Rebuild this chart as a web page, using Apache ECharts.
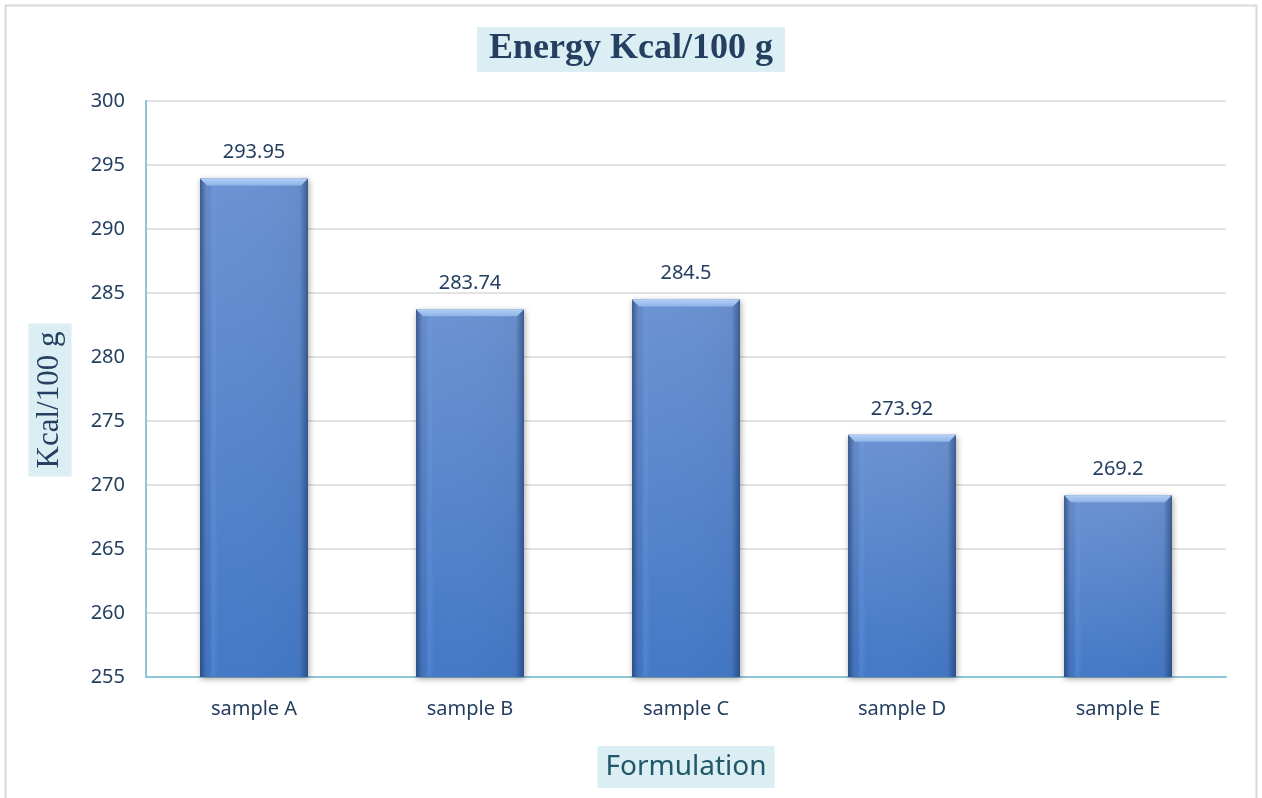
<!DOCTYPE html>
<html>
<head>
<meta charset="utf-8">
<script src="https://cdn.jsdelivr.net/npm/echarts@6/dist/echarts.min.js"></script>
<style>
  html, body { margin: 0; padding: 0; background: #ffffff; overflow: hidden; }
  #chart { width: 1262px; height: 798px; }
</style>
</head>
<body>
<div id="chart"></div>
<script>
// Energy content per formulation
const categories = ['sample A', 'sample B', 'sample C', 'sample D', 'sample E'];
const energyValues = [293.95, 283.74, 284.5, 273.92, 269.2];
const yTicks = { min: 255, max: 300, interval: 5 };

const chart = echarts.init(document.getElementById('chart'));

const textColor = '#243f60';

// Main bar body: lighter grey-blue at the top, deeper blue at the base
const barFill = new echarts.graphic.LinearGradient(0, 0, 0, 1, [
  { offset: 0, color: '#6c93d2' },
  { offset: 1, color: '#4479c6' }
]);

// Bevel overlay: darker side edges and a light top face, sized from the axis scale
function renderBevel(params, api) {
  const catIndex = api.value(0);
  const top = api.coord([catIndex, api.value(1)]);
  const base = api.coord([catIndex, yTicks.min]);
  const bandWidth = api.size([1, 0])[0];
  const w = bandWidth * 0.5;
  const x0 = top[0] - w / 2;
  const x1 = top[0] + w / 2;
  const y0 = top[1];
  const y1 = base[1];
  const b = 7;
  return {
    type: 'group',
    silent: true,
    children: [
      {
        type: 'rect',
        shape: { x: x0, y: y0, width: w, height: y1 - y0 },
        style: {
          fill: new echarts.graphic.LinearGradient(0, 0, 1, 0, [
            { offset: 0, color: 'rgba(25,45,85,0.55)' },
            { offset: 0.06, color: 'rgba(25,45,85,0.08)' },
            { offset: 0.12, color: 'rgba(120,160,235,0.25)' },
            { offset: 0.17, color: 'rgba(120,160,235,0.0)' },
            { offset: 0.92, color: 'rgba(25,45,85,0.05)' },
            { offset: 1, color: 'rgba(25,45,85,0.55)' }
          ])
        }
      },
      {
        type: 'polygon',
        shape: { points: [[x0, y0], [x1, y0], [x1 - b, y0 + b], [x0 + b, y0 + b]] },
        style: {
          fill: new echarts.graphic.LinearGradient(0, 0, 0, 1, [
            { offset: 0, color: '#b3d0f5' },
            { offset: 1, color: '#8fb4e8' }
          ])
        }
      }
    ]
  };
}

chart.setOption({
  backgroundColor: '#ffffff',
  graphic: [
    {
      type: 'rect',
      shape: { x: 5.5, y: 5.5, width: 1251, height: 800 },
      style: { fill: 'none', stroke: '#d9d9d9', lineWidth: 2 },
      silent: true
    },
    {
      // Vertical axis title
      type: 'text',
      x: 50,
      y: 400,
      rotation: Math.PI / 2,
      silent: true,
      style: {
        text: 'Kcal/100 g',
        font: '31px "Liberation Serif"',
        fill: textColor,
        align: 'center',
        verticalAlign: 'middle',
        backgroundColor: '#daeef3',
        padding: [6, 8, 6, 8]
      }
    }
  ],
  title: {
    text: 'Energy Kcal/100 g',
    left: 'center',
    top: 27,
    padding: [4, 12, 5, 12],
    backgroundColor: '#daeef3',
    textStyle: {
      fontFamily: 'Liberation Serif',
      fontWeight: 'bold',
      fontSize: 36,
      color: textColor
    }
  },
  grid: { left: 146, right: 36, top: 101, bottom: 121, containLabel: false },
  xAxis: {
    type: 'category',
    data: categories,
    name: 'Formulation',
    nameLocation: 'middle',
    nameGap: 69,
    nameTextStyle: {
      fontFamily: 'Noto Sans',
      fontSize: 28,
      color: '#215868',
      backgroundColor: '#daeef3',
      padding: [7, 8, 7, 8]
    },
    axisLine: { lineStyle: { color: '#8dc6d6', width: 2 } },
    axisTick: { show: false },
    axisLabel: {
      fontFamily: 'Noto Sans',
      fontSize: 20,
      color: textColor,
      margin: 22
    }
  },
  yAxis: {
    type: 'value',
    min: yTicks.min,
    max: yTicks.max,
    interval: yTicks.interval,
    axisLine: { show: true, lineStyle: { color: '#8dc6d6', width: 2 } },
    axisTick: { show: false },
    splitLine: { lineStyle: { color: '#d9d9d9', width: 1.5 } },
    axisLabel: {
      fontFamily: 'Noto Sans',
      fontSize: 20,
      color: textColor,
      margin: 21
    }
  },
  series: [
    {
      type: 'bar',
      data: energyValues,
      barWidth: '50%',
      z: 2,
      itemStyle: {
        color: barFill,
        shadowColor: 'rgba(0,0,0,0.35)',
        shadowBlur: 6,
        shadowOffsetX: 1,
        shadowOffsetY: 2
      },
      label: {
        show: true,
        position: 'top',
        distance: 16,
        fontFamily: 'Noto Sans',
        fontSize: 20,
        color: textColor
      }
    },
    {
      type: 'custom',
      renderItem: renderBevel,
      data: energyValues.map((v, i) => [i, v]),
      encode: { x: 0, y: 1 },
      z: 3,
      silent: true
    }
  ],
  animation: false
});
</script>
</body>
</html>
